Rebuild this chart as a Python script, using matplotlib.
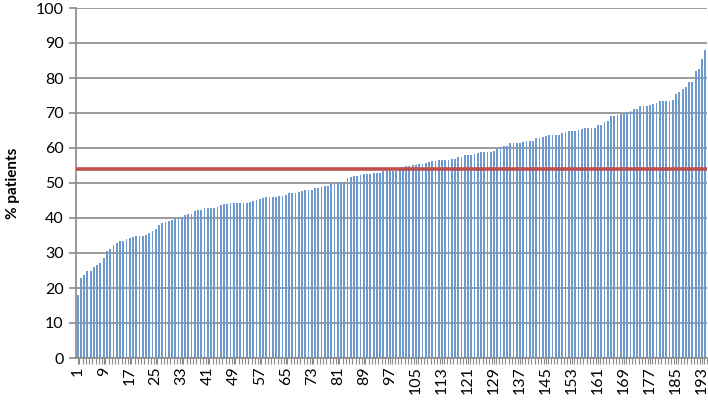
import numpy as np
import matplotlib
matplotlib.use("Agg")
import matplotlib.pyplot as plt
from matplotlib.ticker import FixedLocator


# Share of patients per practice, sorted ascending
pctPatients = [
    18.1, 23.0, 23.8, 25.0, 25.0, 26.0, 26.6, 27.1, 28.6, 30.7,
    31.1, 32.4, 32.9, 33.3, 33.3, 34.0, 34.3, 34.5, 35.0, 35.0,
    35.0, 35.1, 35.7, 36.4, 36.9, 38.1, 38.6, 39.0, 39.2, 39.4,
    39.7, 40.0, 40.0, 40.9, 41.1, 41.1, 41.9, 42.3, 42.4, 42.8,
    42.8, 42.8, 42.8, 43.1, 43.8, 44.0, 44.0, 44.3, 44.3, 44.3,
    44.3, 44.3, 44.3, 44.5, 44.8, 45.2, 45.5, 45.7, 45.9, 45.9,
    46.0, 46.0, 46.2, 46.3, 46.5, 47.2, 47.2, 47.2, 47.3, 47.7,
    48.0, 48.1, 48.1, 48.5, 48.6, 48.9, 49.2, 49.2, 49.9, 49.9,
    49.9, 50.3, 50.4, 51.5, 51.8, 52.0, 52.1, 52.3, 52.5, 52.6,
    52.6, 52.8, 53.0, 53.0, 53.3, 53.3, 53.3, 53.3, 53.3, 53.6,
    54.7, 54.9, 54.9, 55.2, 55.2, 55.3, 55.4, 55.8, 56.0, 56.2,
    56.4, 56.5, 56.5, 56.6, 56.7, 56.8, 57.0, 57.3, 57.5, 57.9,
    58.0, 58.1, 58.4, 58.7, 58.8, 58.8, 58.9, 59.0, 59.2, 59.7,
    60.2, 60.5, 60.5, 61.3, 61.3, 61.4, 61.5, 61.6, 61.9, 61.9,
    62.1, 63.0, 63.0, 63.1, 63.3, 63.7, 63.7, 63.8, 63.8, 64.2,
    64.5, 64.8, 64.8, 65.0, 65.1, 65.4, 65.7, 65.7, 65.7, 65.7,
    66.6, 66.6, 67.3, 67.8, 69.2, 69.2, 69.5, 69.6, 69.8, 70.3,
    70.5, 71.2, 71.2, 71.9, 72.0, 72.0, 72.3, 72.6, 72.8, 73.5,
    73.5, 73.5, 73.5, 73.7, 75.3, 76.0, 77.0, 77.4, 78.9, 78.9,
    82.1, 82.6, 85.3, 87.9,
]
practiceIds = list(range(1, len(pctPatients) + 1))
shownIds = practiceIds[::8]
meanLine = 54.0
yTicks = list(range(0, 101, 10))
yLabNam = "% patients"


def plotBars(ids: list, vals: list, tickIds: list, refVal: float, saveNam: str) -> None:

    plt.rcParams["font.family"] = ["Lato", "DejaVu Sans"]
    gridCol = "#8a8a8a"

    fig = plt.figure(figsize=(7.08, 4.03), dpi=100)
    ax = fig.add_axes([76 / 708, 1 - 358 / 403, 631 / 708, 350 / 403])

    # Bars on a category axis (position = index)
    pos = np.arange(len(ids))
    ax.bar(pos, vals, width=0.55, color="#6f9ad0", edgecolor="none", zorder=2)
    ax.axhline(refVal, color="#c0504d", linewidth=2.6, zorder=3)

    ax.set_xlim(-0.5, len(ids) - 0.5)
    ax.set_ylim(0, 100)
    ax.set_yticks(yTicks)
    ax.yaxis.grid(True, color=gridCol, linewidth=1.2, zorder=1)
    ax.set_axisbelow(True)

    # Labels every 8th category, small comb of ticks at each category edge
    ax.xaxis.set_major_locator(FixedLocator([ids.index(t) for t in tickIds]))
    ax.set_xticklabels([str(t) for t in tickIds], rotation=90, fontsize=11.5)
    ax.xaxis.set_minor_locator(FixedLocator(pos + 0.5))
    ax.tick_params(axis="x", which="major", length=4, color=gridCol, width=0.8, pad=2)
    ax.tick_params(axis="x", which="minor", length=4, color=gridCol, width=0.8)
    ax.tick_params(axis="y", length=5, color=gridCol, width=1.2, labelsize=11.5, pad=4)

    for side in ["top", "right"]:
        ax.spines[side].set_visible(False)
    for side in ["left", "bottom"]:
        ax.spines[side].set_color(gridCol)
        ax.spines[side].set_linewidth(1.2)

    ax.set_ylabel(yLabNam, fontsize=11, fontweight="bold", labelpad=11)

    fig.savefig(saveNam, dpi=100)
    plt.close()
    return None


if __name__ == "__main__":
    plotBars(practiceIds, pctPatients, shownIds, meanLine, "out.png")
